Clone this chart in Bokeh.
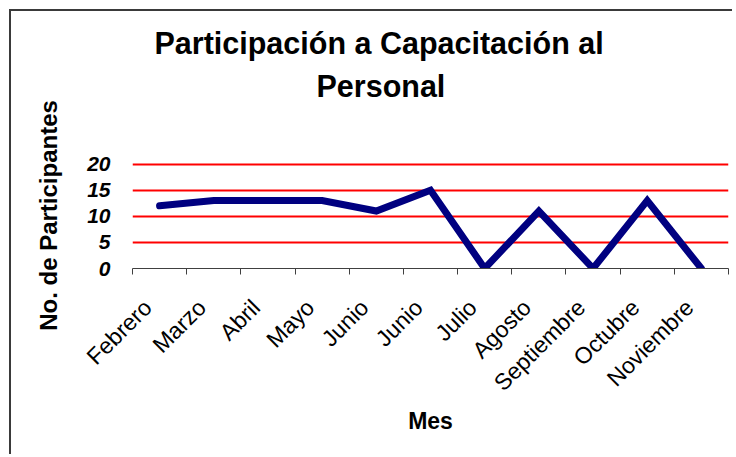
import math
from bokeh.plotting import figure
from bokeh.models import FixedTicker, Range1d, Title, LinearAxis
from bokeh.embed import file_html
from bokeh.resources import INLINE

months = ["Febrero", "Marzo", "Abril", "Mayo", "Junio", "Junio", "Julio",
          "Agosto", "Septiembre", "Octubre", "Noviembre"]
participants = [12, 13, 13, 13, 11, 15, 0, 11, 0, 13, 0]
y_ticks = [0, 5, 10, 15, 20]
grid_ticks = [5, 10, 15, 20]

title_line1 = "Participación a Capacitación al"
title_line2 = "Personal"
y_title = "No. de Participantes"
x_title = "Mes"

xs = list(range(1, len(months) + 1))
bounds = [i + 0.5 for i in range(0, len(months) + 1)]
label_shift = -0.22
label_pos = [x + label_shift for x in xs]

FONT = "Liberation Sans"

p = figure(width=723, height=445, output_backend="svg", toolbar_location=None,
           x_range=Range1d(0.5, len(months) + 0.5), y_range=Range1d(0, 20.3),
           min_border_left=121, min_border_right=6, min_border_top=151,
           min_border_bottom=188, title=None)
p.styles = {"border-top": "2px solid #3a3a3a", "border-left": "2px solid #3a3a3a",
            "margin-left": "9px", "margin-top": "9px"}
p.outline_line_color = None
p.background_fill_color = "white"
p.border_fill_color = "white"

xa = p.below[0]

# blank spacer (white tick on white, at the frame's left edge) between frame and title block
spacer_tick = [bounds[0]]
spacer = LinearAxis(ticker=FixedTicker(ticks=spacer_tick), axis_line_color=None,
                    major_tick_line_color="white", major_tick_out=60,
                    major_tick_in=0, minor_tick_out=0,
                    minor_tick_line_color=None, major_label_standoff=0,
                    major_label_overrides={spacer_tick[0]: ""},
                    major_label_text_font_size="1px",
                    major_label_text_color="white")
p.add_layout(spacer, "above")

t2 = Title(text=title_line2, align="left", offset=184, standoff=0,
           text_font=FONT, text_font_size="30.5px", text_font_style="bold",
           text_color="black")
t1 = Title(text=title_line1, align="left", offset=22, standoff=13,
           text_font=FONT, text_font_size="30.5px", text_font_style="bold",
           text_color="black")
p.add_layout(t2, "above")
p.add_layout(t1, "above")

p.line(xs, participants, line_color="#000080", line_width=7,
       line_join="miter", line_cap="round")

# y axis
ya = p.left[0]
ya.ticker = FixedTicker(ticks=y_ticks)
ya.axis_line_color = None
ya.major_tick_line_color = None
ya.minor_tick_line_color = None
ya.major_label_text_font = FONT
ya.major_label_text_font_size = "21px"
ya.major_label_text_font_style = "bold italic"
ya.major_label_text_color = "black"
ya.major_label_standoff = 16
ya.axis_label = y_title
ya.axis_label_text_font = FONT
ya.axis_label_text_font_size = "24px"
ya.axis_label_text_font_style = "bold"
ya.axis_label_text_color = "black"
ya.axis_label_standoff = 22

# grid
p.xgrid.visible = False
p.ygrid.ticker = FixedTicker(ticks=grid_ticks)
p.ygrid.grid_line_color = "#ff0000"
p.ygrid.grid_line_width = 2

# x axis
xa.ticker = FixedTicker(ticks=label_pos, minor_ticks=bounds)
xa.major_label_overrides = {x: m for x, m in zip(label_pos, months)}
xa.axis_line_color = "#404040"
xa.major_tick_line_color = None
xa.minor_tick_line_color = "#404040"
xa.minor_tick_out = 6
xa.minor_tick_in = 0
xa.major_label_orientation = math.pi / 4
xa.major_label_text_font = FONT
xa.major_label_text_font_size = "23px"
xa.major_label_text_color = "black"
xa.major_label_standoff = 29
xa.axis_label = x_title
xa.axis_label_text_font = FONT
xa.axis_label_text_font_size = "23px"
xa.axis_label_text_font_style = "bold"
xa.axis_label_text_color = "black"
xa.axis_label_standoff = 0

open("out.html", "w").write(file_html(p, INLINE))
